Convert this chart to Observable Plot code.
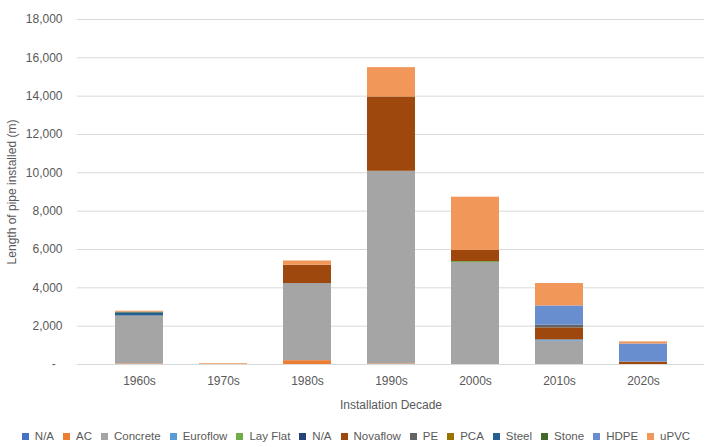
<!DOCTYPE html>
<html>
<head>
<meta charset="utf-8">
<script src="https://cdn.jsdelivr.net/npm/d3@7"></script>
<script src="https://cdn.jsdelivr.net/npm/@observablehq/plot@0.6"></script>
<style>
  html, body { margin: 0; padding: 0; background: #fff; }
  #chart { width: 712px; font-family: "Liberation Sans", Arial, sans-serif; color: #595959; }
  .legend { display: flex; justify-content: center; align-items: center; height: 22px; font-size: 11.5px; color: #595959; white-space: nowrap; }
  .legend .item { display: flex; align-items: center; margin: 0 4.5px; }
  .legend .swatch { width: 7px; height: 7px; margin-right: 6px; }
</style>
</head>
<body>
<div id="chart"></div>
<script>
// Installation decades (x categories)
const decades = ["1960s", "1970s", "1980s", "1990s", "2000s", "2010s", "2020s"];

// Pipe materials, stacked bottom to top, with their fills
const materials = ["N/A", "AC", "Concrete", "Euroflow", "Lay Flat", "N/A", "Novaflow", "PE", "PCA", "Steel", "Stone", "HDPE", "uPVC"];
const materialColors = ["#4472C4", "#ED7D31", "#A5A5A5", "#5B9BD5", "#70AD47", "#264478", "#9E480E", "#636363", "#997300", "#255E91", "#43682B", "#698ED0", "#F1975A"];

// Length of pipe installed (m) per decade, one array per material
const naA      = [0, 0, 0, 0, 0, 0, 0];
const ac       = [30, 0, 200, 30, 0, 0, 0];
const concrete = [2500, 0, 4025, 10050, 5320, 1215, 0];
const euroflow = [0, 0, 0, 0, 0, 65, 0];
const layFlat  = [0, 0, 0, 0, 50, 0, 0];
const naB      = [0, 0, 0, 0, 0, 0, 0];
const novaflow = [0, 0, 955, 3880, 580, 630, 125];
const pe       = [0, 0, 0, 0, 0, 140, 0];
const pca      = [0, 0, 0, 0, 0, 0, 0];
const steel    = [160, 0, 0, 0, 0, 0, 0];
const stone    = [40, 0, 0, 0, 0, 0, 0];
const hdpe     = [0, 0, 0, 0, 0, 1005, 945];
const upvc     = [50, 40, 220, 1530, 2780, 1170, 110];

const seriesValues = [naA, ac, concrete, euroflow, layFlat, naB, novaflow, pe, pca, steel, stone, hdpe, upvc];

// Tidy rows for stacking
const rows = [];
seriesValues.forEach((vals, s) => {
  vals.forEach((v, i) => {
    if (v > 0) rows.push({decade: decades[i], s, value: v});
  });
});

const yTicks = d3.range(0, 18001, 2000);
const fmt = d3.format(",");

const chart = Plot.plot({
  width: 712,
  height: 425,
  marginTop: 19,
  marginBottom: 61,
  marginLeft: 77,
  marginRight: 8,
  style: {fontFamily: "'Liberation Sans', Arial, sans-serif", fontSize: "12px", color: "#595959", background: "#fff"},
  x: {domain: decades, padding: 0.43},
  y: {domain: [0, 18000]},
  marks: [
    Plot.gridY(yTicks, {stroke: "#D9D9D9", strokeOpacity: 1}),
    Plot.barY(rows, Plot.stackY({
      x: "decade",
      y: "value",
      z: "s",
      fill: d => materialColors[d.s]
    })),
    Plot.ruleY([0], {stroke: "#D9D9D9"}),
    Plot.axisY(yTicks, {
      tickSize: 0,
      tickPadding: 15,
      tickFormat: d => d === 0 ? "-\u00a0\u00a0" : fmt(d),
      label: "Length of pipe installed (m)",
      labelAnchor: "center",
      labelArrow: "none",
      labelOffset: 70,
      fill: "#595959"
    }),
    Plot.axisX({
      tickSize: 0,
      tickPadding: 12,
      label: "Installation Decade",
      labelAnchor: "center",
      labelArrow: "none",
      labelOffset: 44,
      fill: "#595959"
    })
  ]
});

const root = document.getElementById("chart");
root.appendChild(chart);

// Legend row below the plot
const legend = document.createElement("div");
legend.className = "legend";
materials.forEach((name, i) => {
  const item = document.createElement("span");
  item.className = "item";
  const sw = document.createElement("span");
  sw.className = "swatch";
  sw.style.background = materialColors[i];
  const label = document.createElement("span");
  label.textContent = name;
  item.appendChild(sw);
  item.appendChild(label);
  legend.appendChild(item);
});
root.appendChild(legend);
</script>
</body>
</html>
